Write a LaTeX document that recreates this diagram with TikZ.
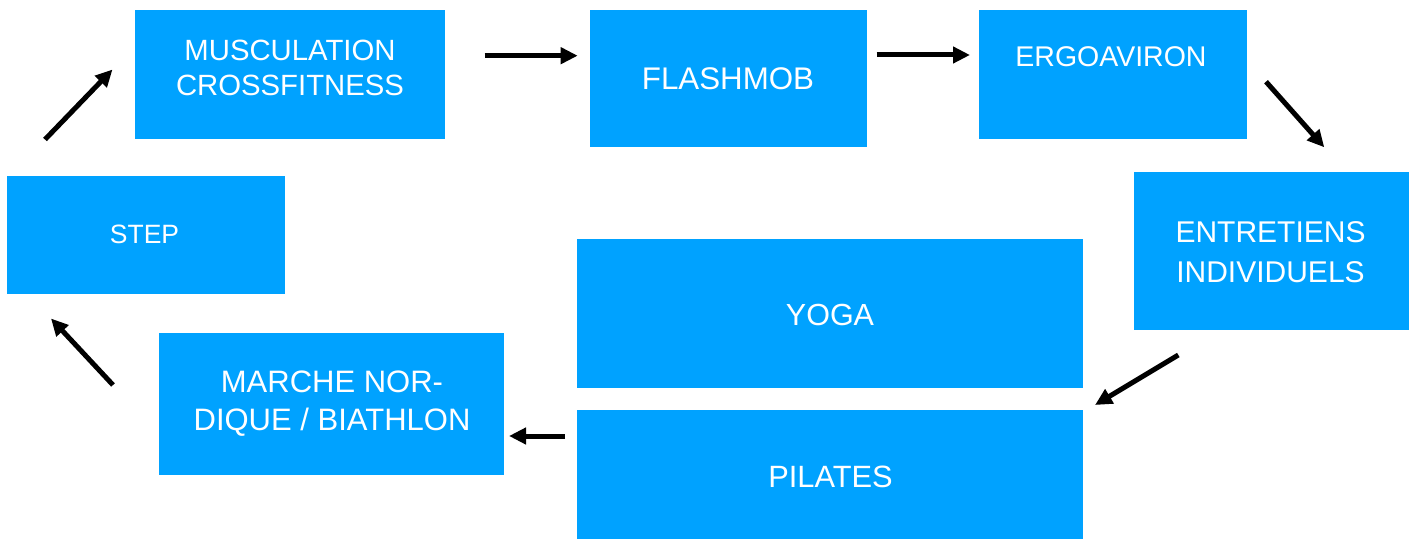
\documentclass[tikz,border=0pt]{standalone}
\usepackage{fontspec}
\setmainfont{Liberation Sans}
\usetikzlibrary{arrows.meta}
\definecolor{boxblue}{RGB}{0,162,255}
\tikzset{
  box/.style={fill=boxblue, draw=none, inner sep=0pt, anchor=north west},
  lbl/.style={text=white, align=center, inner sep=0pt, anchor=center},
  arr/.style={line width=5pt, -{Triangle[length=17pt,width=16pt]}}
}
\newcommand{\fs}[2]{\fontsize{#1}{#2}\selectfont}
\begin{document}
\begin{tikzpicture}[x=1pt,y=-1pt]
\useasboundingbox[fill=white] (0,0) rectangle (1415,540);
% boxes
\node[box, minimum width=310pt, minimum height=129pt] (musc) at (135,10) {};
\node[box, minimum width=277pt, minimum height=137pt] (flash) at (590,10) {};
\node[box, minimum width=268pt, minimum height=129pt] (ergo) at (979,10) {};
\node[box, minimum width=275pt, minimum height=158pt] (entr) at (1134,172) {};
\node[box, minimum width=506pt, minimum height=149pt] (yoga) at (577,239) {};
\node[box, minimum width=506pt, minimum height=129pt] (pil) at (577,410) {};
\node[box, minimum width=345pt, minimum height=142pt] (marche) at (159,333) {};
\node[box, minimum width=278pt, minimum height=118pt] (step) at (7,176) {};
% labels
\node[lbl, font=\fs{29.3}{35}] (tmusc) at (290,68) {MUSCULATION\\CROSSFITNESS};
\node[lbl, font=\fs{31.3}{36}] (tflash) at (728,79) {FLASHMOB};
\node[lbl, font=\fs{28.5}{36}] (tergo) at (1111,57) {ERGOAVIRON};
\node[lbl, font=\fs{30}{39.5}] (tentr) at (1270.5,252) {ENTRETIENS\\INDIVIDUELS};
\node[lbl, font=\fs{30.5}{36}] (tyoga) at (830,314.5) {YOGA};
\node[lbl, font=\fs{30.8}{36}] (tpil) at (830.5,476.7) {PILATES};
\node[lbl, font=\fs{31}{38.7}] (tmarche) at (332,403.5) {MARCHE NOR-\\DIQUE / BIATHLON};
\node[lbl, font=\fs{26.5}{32}] (tstep) at (144.5,234.7) {STEP};
% arrow end points
\coordinate (a1s) at (45,139.5);   \coordinate (a1e) at (112.5,69.5);
\coordinate (a2s) at (484.5,55.7); \coordinate (a2e) at (577.7,55.7);
\coordinate (a3s) at (876.7,55);   \coordinate (a3e) at (970,55);
\coordinate (a4s) at (1266,81.7);  \coordinate (a4e) at (1324.3,147.3);
\coordinate (a5s) at (1178.3,355); \coordinate (a5e) at (1095,405);
\coordinate (a6s) at (565,436);    \coordinate (a6e) at (509,436);
\coordinate (a7s) at (113,385);    \coordinate (a7e) at (51,318.5);
\draw[arr] (a1s) -- (a1e);
\draw[arr] (a2s) -- (a2e);
\draw[arr] (a3s) -- (a3e);
\draw[arr] (a4s) -- (a4e);
\draw[arr] (a5s) -- (a5e);
\draw[arr] (a6s) -- (a6e);
\draw[arr] (a7s) -- (a7e);
\end{tikzpicture}
\end{document}
